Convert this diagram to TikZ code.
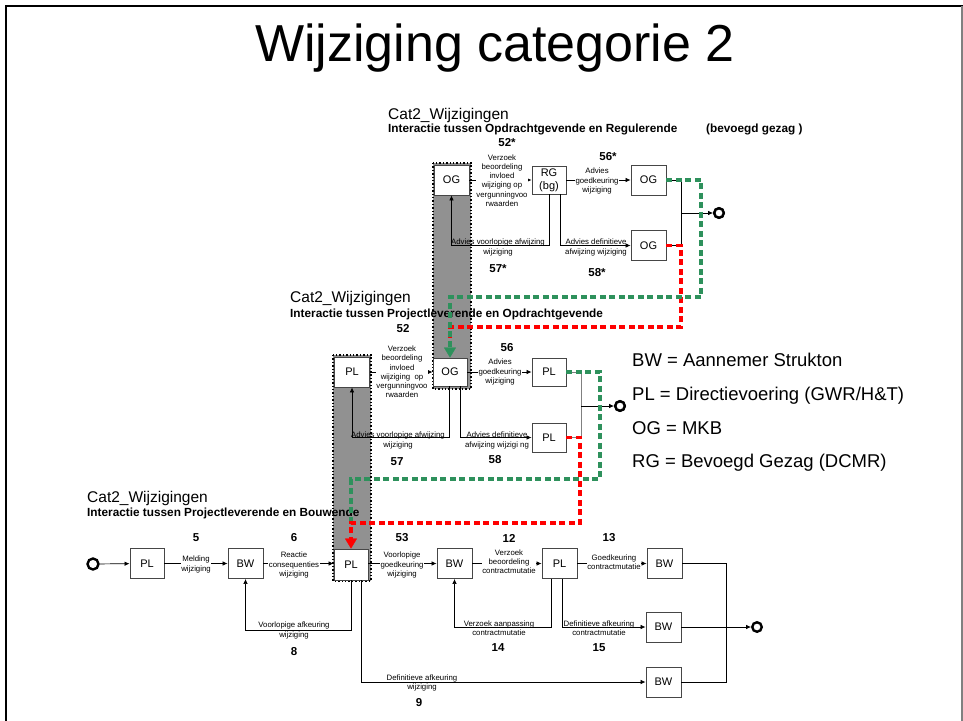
\documentclass[tikz,border=0pt]{standalone}
\usepackage{fontspec}
\setmainfont{Liberation Sans}
\usetikzlibrary{arrows.meta}
\definecolor{dgreen}{RGB}{46,145,92}
\definecolor{colgray}{RGB}{145,145,145}
\definecolor{boxgray}{RGB}{70,70,70}
\begin{document}
\begin{tikzpicture}[x=1pt,y=-1pt,
  box/.style={draw=boxgray, fill=white, line width=0.9pt, minimum width=35pt, minimum height=30pt, inner sep=0pt, font=\fontsize{11}{13}\selectfont, align=center},
  conn/.style={line width=0.7pt, -{Latex[length=5pt,width=4.5pt]}},
  ln/.style={line width=0.7pt},
  elab/.style={font=\fontsize{7.8}{9.2}\selectfont, align=center, inner sep=0.5pt},
  elabw/.style={elab, fill=white},
  num/.style={font=\fontsize{11.5}{13}\selectfont\bfseries},
  hdr/.style={anchor=base west, inner sep=0pt, font=\fontsize{15.5}{18}\selectfont},
  bhdr/.style={anchor=base west, inner sep=0pt, font=\fontsize{11.8}{14}\selectfont\bfseries},
  leg/.style={anchor=base west, inner sep=0pt, font=\fontsize{18.5}{22}\selectfont},
  col/.style={fill=colgray, draw=black, dotted, line width=1.4pt},
  gdash/.style={draw=dgreen, line width=3.8pt, dash pattern=on 6pt off 3.5pt},
  rdash/.style={draw=red, line width=3.8pt, dash pattern=on 6pt off 3.5pt},
  endc/.style={circle, draw=black, line width=2.4pt, minimum size=9.5pt, inner sep=0pt, fill=white},
  bigtip/.style={-{Triangle[length=10pt,width=12pt,line width=0.3pt]}},
]
\useasboundingbox (0,0) rectangle (963,720);
% frame
\draw[line width=2pt] (6,721) -- (6,6) -- (963,6);
\draw[gray, line width=1.5pt] (962,6) -- (962,721);

% title
\node[anchor=base, inner sep=0pt, font=\fontsize{52}{60}\selectfont] (title) at (495,61) {Wijziging categorie 2};

% columns
\path[col] (433,163) rectangle (471,389);
\path[col] (333,355) rectangle (371,581);

% headers
\node[hdr] (h1) at (388,119) {Cat2\_Wijzigingen};
\node[bhdr] (h1b) at (388,132) {Interactie tussen Opdrachtgevende en Regulerende};
\node[bhdr] (h1c) at (706,132) {(bevoegd gezag )};
\node[hdr] (h2) at (290,302) {Cat2\_Wijzigingen};
\node[bhdr] (h2b) at (290,317) {Interactie tussen Projectleverende en Opdrachtgevende};
\node[hdr] (h3) at (87,502) {Cat2\_Wijzigingen};
\node[bhdr] (h3b) at (87,516) {Interactie tussen Projectleverende en Bouwende};

% boxes top
\node[box] (og1) at (451.5,180) {OG};
\node[box, minimum width=34pt, minimum height=28pt] (rg) at (549,180) {RG\\(bg)};
\node[box] (og2) at (648.5,180) {OG};
\node[box] (og3) at (648.5,245.5) {OG};
% boxes middle
\node[box, minimum width=34pt, minimum height=28pt] (og4) at (450,372) {OG};
\node[box] (pl1) at (352,372) {PL};
\node[box, minimum width=34pt, minimum height=28pt] (pl2) at (549,372) {PL};
\node[box, minimum width=34pt, minimum height=29pt] (pl3) at (549,437.5) {PL};
% boxes bottom
\node[box, minimum width=34pt] (plA) at (147,563.5) {PL};
\node[box] (bwA) at (245.5,563.5) {BW};
\node[box, minimum width=34pt, minimum height=31pt] (plB) at (351,564.5) {PL};
\node[box] (bwB) at (454.5,563.5) {BW};
\node[box] (plC) at (559.5,563.5) {PL};
\node[box] (bwC) at (664.5,563.5) {BW};
\node[box] (bwD) at (663.5,627) {BW};
\node[box] (bwE) at (663.5,682) {BW};

% end / start circles
\node[endc] (e1) at (719,213) {};
\node[endc] (e2) at (620,406) {};
\node[endc] (e3) at (757,627) {};
\node[endc, minimum size=11pt] (s0) at (93,564) {};

\coordinate (m1) at (681,213);
\coordinate (m2) at (581,406);

% ---- top connectors
\draw[conn] (og1.east) -- (rg.west);
\node[elabw] (l52s) at (502,180.5) {Verzoek\\beoordeling\\invloed\\wijziging op\\vergunningvoo\\rwaarden};
\draw[conn] (rg.east) -- (og2.west);
\node[elabw] (l56s) at (597,181) {Advies\\goedkeuring\\wijziging};
\draw[conn] (rg.south) -- ++(0,51) -| (og1.south);
\node[elab] (l57s) at (498,247.5) {Advies voorlopige afwijzing\\wijziging};
\draw[conn] ([xshift=11pt]rg.south) |- (og3.west);
\node[elab] (l58s) at (596,247.5) {Advies definitieve\\afwijzing wijziging};
\draw[ln] (og2.east) -- (681,180) |- (og3.east);
\draw[conn] (m1) -- (e1);
\node[num] (n52s) at (507,143) {52*};
\node[num] (n56s) at (608,157) {56*};
\node[num] (n57s) at (498,269) {57*};
\node[num] (n58s) at (597,273) {58*};

% ---- middle connectors
\draw[conn] (pl1.east) -- (og4.west);
\node[elabw] (l52) at (402,372) {Verzoek\\beoordeling\\invloed\\wijziging\ \ op\\vergunningvoo\\rwaarden};
\draw[conn] (og4.east) -- (pl2.west);
\node[elabw] (l56) at (500,372) {Advies\\goedkeuring\\wijziging};
\draw[conn] ([xshift=-1pt]og4.south) -- ++(0,51) -| (pl1.south);
\node[elab] (l57) at (398,440.5) {Advies voorlopige afwijzing\\wijziging};
\draw[conn] ([xshift=10pt]og4.south) |- (pl3.west);
\node[elab] (l58) at (497,440.5) {Advies definitieve\\afwijzing wijzigi ng};
\draw[ln, draw=gray] (pl2.east) -- (581,372) |- (pl3.east);
\draw[conn] (m2) -- (e2);
\node[num] (n52) at (403,329) {52};
\node[num] (n56) at (507,348) {56};
\node[num] (n57) at (397,462) {57};
\node[num] (n58) at (495,460) {58};

% ---- bottom connectors
\draw[conn] (s0) -- (plA);
\draw[conn] (plA) -- (bwA);
\node[elabw] (l5) at (196,564.5) {Melding\\wijziging};
\draw[conn] (bwA.east) -- (plB.west |- bwA.east);
\node[elabw] (l6) at (294,565) {Reactie\\consequenties\\wijziging};
\draw[conn] (plB.east |- bwB.west) -- (bwB.west);
\node[elabw] (l53) at (402,565) {Voorlopige\\goedkeuring\\wijziging};
\draw[conn] (bwB) -- (plC);
\node[elabw] (l12) at (509,562) {Verzoek\\beoordeling\\contractmutatie};
\draw[conn] (plC) -- (bwC);
\node[elabw] (l13) at (614,562.5) {Goedkeuring\\contractmutatie};
\draw[conn] (plB.south) -- ++(0,50) -| (bwA.south);
\node[elab] (l8) at (294,630.5) {Voorlopige afkeuring\\wijziging};
\draw[conn] ([xshift=10pt]plB.south) |- (bwE.west);
\node[elab] (l9) at (422,683) {Definitieve afkeuring\\wijziging};
\draw[conn] ([xshift=-8pt]plC.south) -- ++(0,48.5) -| (bwB.south);
\node[elab] (l14) at (499,628.5) {Verzoek aanpassing\\contractmutatie};
\draw[conn] ([xshift=2.5pt]plC.south) |- (bwD.west);
\node[elab] (l15) at (599,628.5) {Definitieve afkeuring\\contractmutatie};
\draw[ln] (bwC.east) -- (726,563.5) |- (bwE.east);
\draw[conn] (bwD.east) -- (e3);
\node[num] (n5) at (196,538) {5};
\node[num] (n6) at (294,538) {6};
\node[num] (n53) at (402,538) {53};
\node[num] (n12) at (509,538) {12};
\node[num] (n13) at (609,538) {13};
\node[num] (n8) at (294,652) {8};
\node[num] (n9) at (419,703) {9};
\node[num] (n14) at (498,648) {14};
\node[num] (n15) at (599,648) {15};

% ---- dashed feedback lines
\draw[rdash] (og3.east) -- (681,245.5) -- (681,327) -- (450,327) -- (450,340);
\draw[gdash, bigtip] (og2.east) -- (701,180) -- (701,297) -- (450,297) -- (og4.north);
\draw[gdash] (pl2.east) -- (600,372) -- (600,479) -- (351,479) -- (351,523);
\draw[rdash, bigtip] (pl3.east) -- (580,437.5) -- (580,523) -- (351,523) -- (plB.north);

% circles on top of dashed lines
\node[endc] at (e1) {};
\node[endc] at (e2) {};

% legend
\node[leg] (lg1) at (632,366) {BW = Aannemer Strukton};
\node[leg] (lg2) at (632,400) {PL = Directievoering (GWR/H\&T)};
\node[leg] (lg3) at (632,434) {OG = MKB};
\node[leg] (lg4) at (632,467) {RG = Bevoegd Gezag (DCMR)};
\end{tikzpicture}
\end{document}
